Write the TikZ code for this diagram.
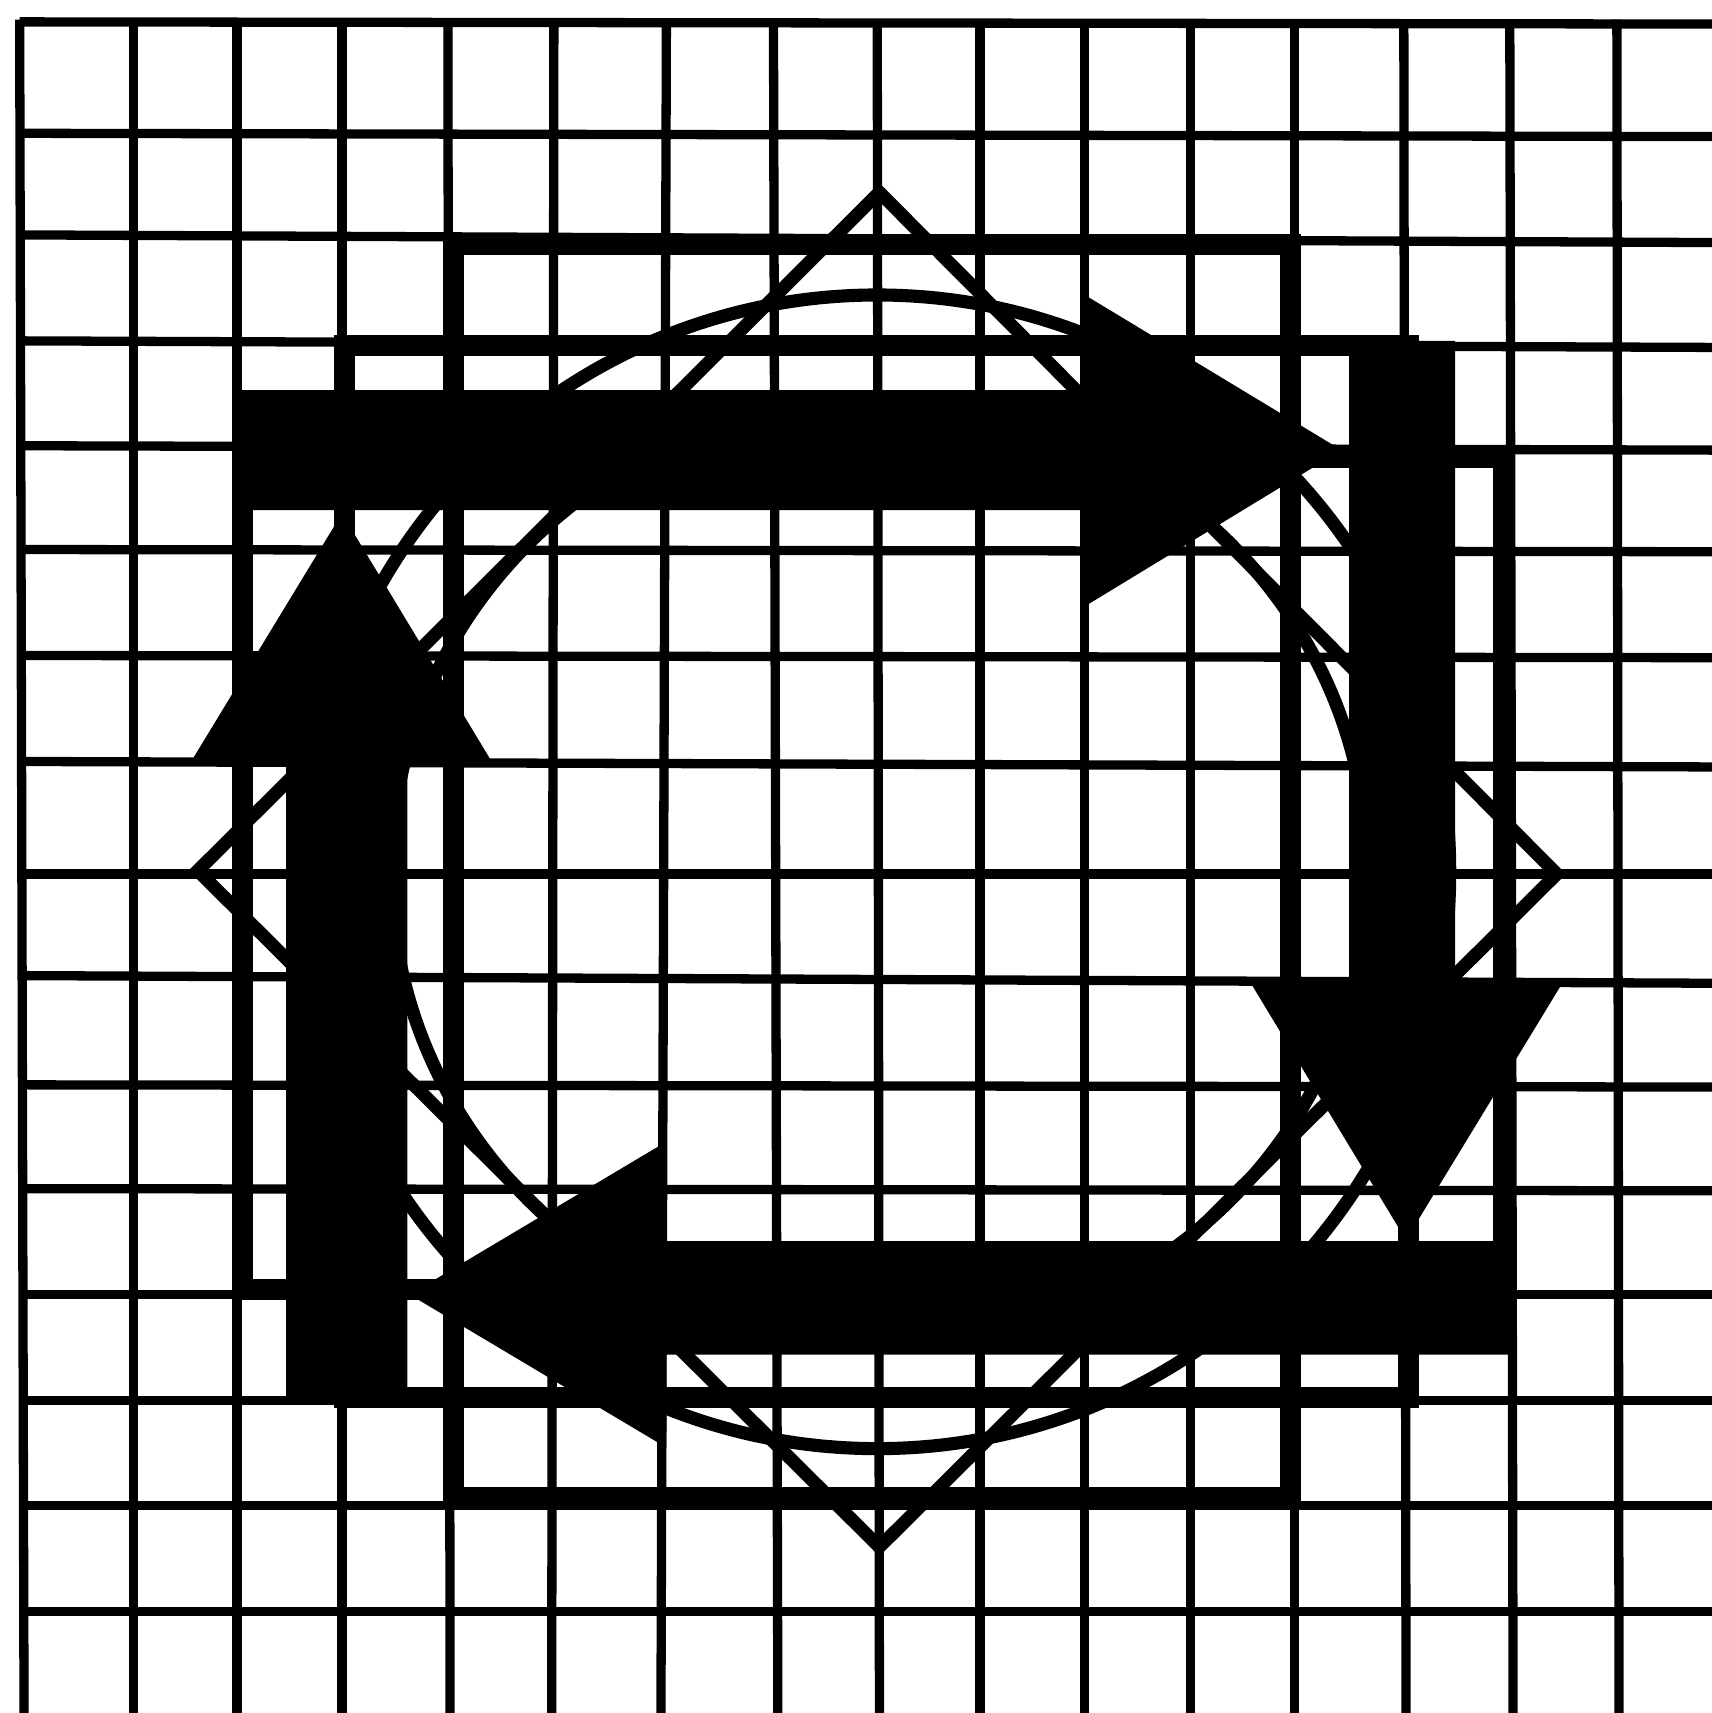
\documentclass[tikz,border=0pt]{standalone}
\usepackage{tikz}

\begin{document}
\begin{tikzpicture}[x=.1mm,y=-.1mm,
    gridline/.style={line width=.85mm},
    heavyline/.style={line width=1.9mm},
    figline/.style={line width=1.2mm}]
  \useasboundingbox (0,0) rectangle (1567,1568);
  \fill[white] (0,0) rectangle (1567,1568);
  % grid, vertical then horizontal
  \foreach \xa/\xb in {18/22,122/122,217/217,313/313,410/412,507/505,610/605,708/712,
      803/805,897/897,993/993,1090/1090,1185/1185,1285/1287,1382/1385,1480/1482}
    \draw[gridline] (\xa,18) -- (\xb,1568);
  \foreach \ya/\yb in {20/22,122/125,215/222,312/318,408/412,503/505,600/602,697/702,
      800/800,893/900,993/995,1088/1090,1185/1185,1282/1282,1378/1378,1475/1475}
    \draw[gridline] (18,\ya) -- (1567,\yb);
  % nested rectangles
  \draw[heavyline] (415,224) rectangle (1181,1371);
  \draw[heavyline] (222,419) rectangle (1376,1180);
  \draw[heavyline] (315,316) rectangle (1289,1279);
  % diamond and circles
  \draw[figline,line join=miter] (805,176) -- (1425,800) -- (805,1416) -- (181,797) -- cycle;
  \draw[figline] (803,798) ellipse (524 and 528);
  \draw[figline] (805,798) ellipse (447 and 432);
  % arrows
  \fill (215,357) -- (993,357) -- (993,270) -- (1228,412) -- (993,555) -- (993,467) -- (215,467) -- cycle;
  \fill (1235,312) -- (1332,312) -- (1332,900) -- (1430,900) -- (1287,1135) -- (1145,900) -- (1235,900) -- cycle;
  \fill (1386,1136) -- (610,1136) -- (610,1045) -- (375,1185) -- (610,1325) -- (610,1240) -- (1386,1240) -- cycle;
  \fill (262,1285) -- (262,697) -- (175,697) -- (313,470) -- (450,697) -- (373,697) -- (373,1285) -- cycle;
\end{tikzpicture}
\end{document}
